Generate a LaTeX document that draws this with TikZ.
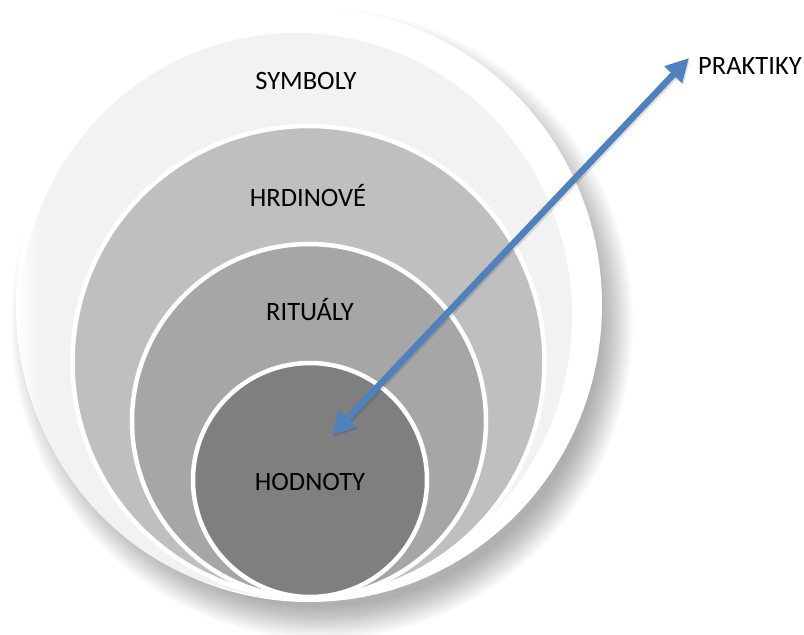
\documentclass[tikz,border=0pt]{standalone}
\usepackage{fontspec}
\setmainfont{Carlito}
\usetikzlibrary{arrows.meta}
\definecolor{lvA}{HTML}{F2F2F2}
\definecolor{lvB}{HTML}{BFBFBF}
\definecolor{lvC}{HTML}{A6A6A6}
\definecolor{lvD}{HTML}{7F7F7F}
\definecolor{arrowblue}{HTML}{4F81BD}
\begin{document}
\begin{tikzpicture}[x=1pt,y=-1pt,
  layer/.style={circle, draw=white, line width=4.5pt, inner sep=0pt},
  lbl/.style={font=\fontsize{26.5}{30}\selectfont, text=black, anchor=base, inner sep=0pt},
  link/.style={draw=arrowblue, line width=6.5pt,
    {Triangle[length=23pt,width=23pt]}-{Triangle[length=23pt,width=23pt]}},
  linkshadow/.style={draw=black, opacity=0.12, line width=7pt,
    {Triangle[length=23pt,width=23pt]}-{Triangle[length=23pt,width=23pt]}}]
\useasboundingbox (0,0) rectangle (804,635);
\fill[white] (0,0) rectangle (804,635);
% soft shadow of the outer shape
\foreach \d in {18,16,...,-14}
  \fill[black, opacity=0.02] (322,324) ellipse [x radius={293+\d}, y radius={297+\d}];
% outer white body and light symbol layer
\fill[white] (309,305) ellipse [x radius=293, y radius=297];
\fill[lvA] (296,315.5) ellipse [x radius=276, y radius=282.5];
\begin{scope}
  \clip (296,315.5) ellipse [x radius=276, y radius=282.5];
  \shade[left color=white, right color=lvA] (14,0) rectangle (44,635);
\end{scope}
% nested layers
\node[layer, fill=lvB, minimum size=472pt] (hrd) at (308.5,362) {};
\node[layer, fill=lvC, minimum size=354pt] (rit) at (309,421) {};
\node[layer, fill=lvD, minimum size=234pt] (hod) at (310,480) {};
% labels
\node[lbl] (tsym) at (306,89) {SYMBOLY};
\node[lbl] (thrd) at (308,206) {HRDINOVÉ};
\node[lbl] (trit) at (310,320) {RITUÁLY};
\node[lbl] (thod) at (310,490) {HODNOTY};
\node[lbl, anchor=base west] (tpra) at (698,74) {PRAKTIKY};
% arrow
\coordinate (pin) at (332,435);
\coordinate (pout) at (689,58);
\coordinate (pinS) at (333,437);
\coordinate (poutS) at (690,60);
\draw[linkshadow] (pinS) -- (poutS);
\draw[link] (pin) -- (pout);
\end{tikzpicture}
\end{document}
